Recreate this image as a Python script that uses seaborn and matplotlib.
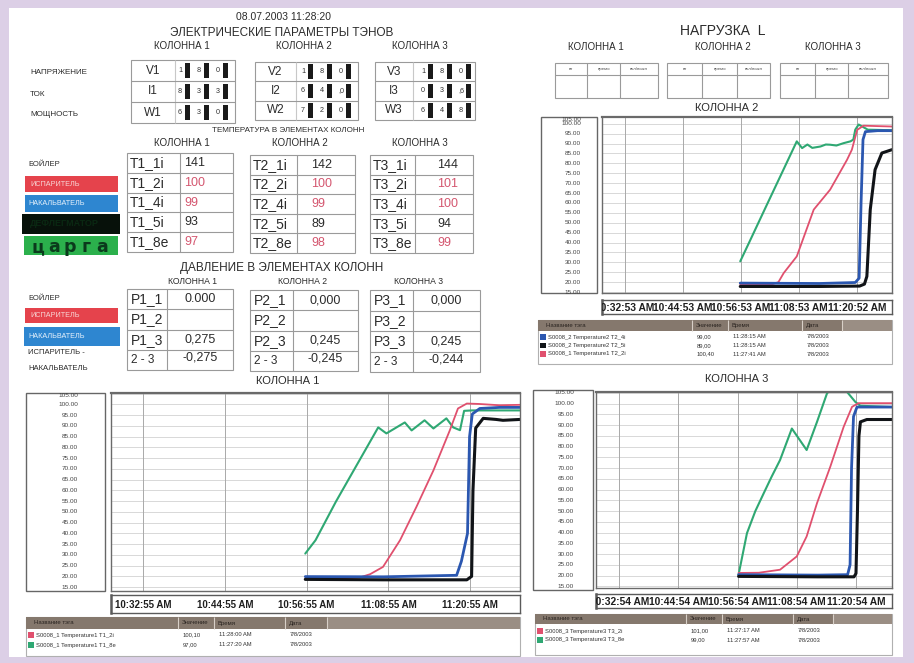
import matplotlib
matplotlib.use("Agg")
import matplotlib.pyplot as plt
from matplotlib.patches import Rectangle
import numpy as np
import pandas as pd
import seaborn as sns

# ---------------- data ----------------
timestamp = "08.07.2003 11:28:20"
col_names = ["КОЛОННА 1", "КОЛОННА 2", "КОЛОННА 3"]

elec_row_labels = ["НАПРЯЖЕНИЕ", "ТОК", "МОЩНОСТЬ"]
elec_names = [["V1", "I1", "W1"], ["V2", "I2", "W2"], ["V3", "I3", "W3"]]
elec_digits = [[["1", "8", "0"], ["8", "3", "3"], ["6", "3", "0"]],
               [["1", "8", "0"], ["6", "4", ",0"], ["7", "2", "0"]],
               [["1", "8", "0"], ["0", "3", ",6"], ["6", "4", "8"]]]

temp_names = [["T1_1i", "T1_2i", "T1_4i", "T1_5i", "T1_8e"],
              ["T2_1i", "T2_2i", "T2_4i", "T2_5i", "T2_8e"],
              ["T3_1i", "T3_2i", "T3_4i", "T3_5i", "T3_8e"]]
temp_values = [["141", "100", "99", "93", "97"],
               ["142", "100", "99", "89", "98"],
               ["144", "101", "100", "94", "99"]]
temp_red_rows = [1, 2, 4]

press_names = [["P1_1", "P1_2", "P1_3", "2 - 3"],
               ["P2_1", "P2_2", "P2_3", "2 - 3"],
               ["P3_1", "P3_2", "P3_3", "2 - 3"]]
press_values = [["0.000", "", "0,275", "-0,275"],
                ["0,000", "", "0,245", "-0,245"],
                ["0,000", "", "0,245", "-0,244"]]

load_headers = ["вт", "время", "вкл/выкл"]

y_ticks = [15, 20, 25, 30, 35, 40, 45, 50, 55, 60, 65, 70, 75, 80, 85, 90, 95, 100, 105]
x_tick_minutes = [4.7, 16.7, 28.7, 40.7, 52.7]      # minutes after 10:28:20
c1_xlabels = ["10:32:55 AM", "10:44:55 AM", "10:56:55 AM", "11:08:55 AM", "11:20:55 AM"]
c2_xlabels = ["10:32:53 AM", "10:44:53 AM", "10:56:53 AM", "11:08:53 AM", "11:20:52 AM"]
c3_xlabels = ["10:32:54 AM", "10:44:54 AM", "10:56:54 AM", "11:08:54 AM", "11:20:54 AM"]

# chart 1 (КОЛОННА 1)
c1_green_t = [28.5, 29.1, 30.0, 33.0, 36.0, 39.2, 40.4, 43.1, 44.1, 46.0, 47.3, 49.2, 50.2, 51.2, 51.8, 53.0, 60.0]
c1_green_v = [30.6, 33.1, 36.8, 54.8, 71.5, 89.3, 86.5, 91.6, 87.9, 92.6, 88.8, 93.5, 89.3, 88.0, 97.0, 97.2, 97.2]
c1_red_t = [28.5, 33.0, 36.5, 38.0, 39.9, 42.4, 44.8, 47.3, 49.7, 50.9, 52.2, 54.0, 57.0, 60.0]
c1_red_v = [19.0, 19.0, 19.5, 21.0, 24.4, 36.8, 52.3, 69.3, 87.9, 98.1, 100.4, 100.2, 99.6, 99.8]
c1_blue_t = [28.5, 40.0, 50.7, 51.4, 52.3, 52.6, 53.0, 54.1, 57.0, 60.0]
c1_blue_v = [19.9, 19.8, 20.5, 27.0, 40.0, 85.0, 95.5, 98.1, 98.6, 98.6]
c1_black_t = [28.5, 40.0, 52.2, 52.9, 53.1, 53.5, 54.6, 56.5, 57.5, 60.0]
c1_black_v = [18.6, 18.4, 18.4, 20.0, 60.0, 89.0, 93.5, 93.0, 92.6, 93.0]

# chart 2 (КОЛОННА 2)
c2_green_t = [28.6, 30.5, 34.0, 37.5, 40.3, 41.4, 42.5, 43.5, 45.2, 46.3, 47.2, 48.5, 50.0, 51.4, 52.0, 52.4, 53.1, 55.0, 60.0]
c2_green_v = [30.5, 40.3, 58.5, 76.6, 91.1, 87.7, 89.5, 87.8, 88.5, 89.5, 89.4, 89.0, 90.2, 91.1, 92.0, 97.0, 99.6, 97.0, 96.7]
c2_red_t = [28.6, 35.0, 36.5, 37.6, 40.3, 43.8, 47.2, 50.7, 51.7, 52.8, 54.1, 57.0, 60.0]
c2_red_v = [18.7, 18.7, 20.0, 24.6, 33.0, 56.6, 66.7, 81.8, 86.9, 96.9, 99.0, 98.8, 98.6]
c2_blue_t = [28.6, 45.0, 52.4, 53.2, 53.6, 54.0, 54.5, 57.0, 60.0]
c2_blue_v = [19.5, 19.3, 19.8, 22.0, 60.0, 92.0, 96.0, 96.5, 96.5]
c2_black_t = [28.6, 45.0, 53.3, 54.3, 54.8, 55.5, 56.5, 57.9, 60.0]
c2_black_v = [17.8, 17.8, 18.0, 19.0, 22.9, 56.6, 76.8, 85.2, 86.9]

# chart 3 (КОЛОННА 3)
c3_green_t = [28.9, 30.6, 32.3, 34.0, 35.6, 37.3, 39.7, 42.7, 44.8, 46.8, 48.5, 50.5, 50.9, 52.6, 53.6, 60.0]
c3_green_v = [20.4, 39.7, 50.0, 58.3, 66.0, 73.7, 88.4, 78.4, 91.5, 104.6, 110.0, 107.0, 105.4, 100.7, 99.0, 98.4]
c3_red_t = [28.9, 33.0, 37.3, 40.7, 42.7, 44.8, 47.5, 50.2, 51.9, 53.2, 56.0, 60.0]
c3_red_v = [21.2, 21.3, 22.7, 28.9, 38.2, 53.7, 70.7, 89.2, 98.5, 100.2, 100.2, 100.2]
c3_blue_t = [28.9, 45.0, 51.0, 51.5, 51.8, 52.2, 52.9, 56.0, 60.0]
c3_blue_v = [20.4, 20.2, 20.4, 25.0, 70.0, 94.0, 98.4, 98.4, 98.4]
c3_black_t = [28.9, 45.0, 52.3, 52.7, 53.0, 53.3, 53.6, 54.9, 60.0]
c3_black_v = [19.6, 19.4, 19.4, 21.0, 50.0, 85.0, 91.5, 92.6, 92.6]

legend_header = ["Название тэга", "Значение", "Время", "Дата"]
c1_legend = [("red", "S0008_1 Temperature1 T1_2i", "100,10", "11:28:00 AM", "7/8/2003"),
             ("green", "S0008_1 Temperature1 T1_8e", "97,00", "11:27:20 AM", "7/8/2003")]
c2_legend = [("blue", "S0008_2 Temperature2 T2_4i", "99,00", "11:28:15 AM", "7/8/2003"),
             ("black", "S0008_2 Temperature2 T2_5i", "89,00", "11:28:15 AM", "7/8/2003"),
             ("red", "S0008_1 Temperature1 T2_2i", "100,40", "11:27:41 AM", "7/8/2003")]
c3_legend = [("red", "S0008_3 Temperature3 T3_2i", "101,00", "11:27:17 AM", "7/8/2003"),
             ("green", "S0008_3 Temperature3 T3_8e", "99,00", "11:27:57 AM", "7/8/2003")]

# ---------------- style ----------------
sns.set_theme(style="white")
plt.rcParams["font.family"] = ["Liberation Sans", "DejaVu Sans"]

COL = {"green": "#2fa873", "red": "#e0506e", "blue": "#2b57b0", "black": "#111418"}
LW = {"green": 1.5, "red": 1.3, "blue": 2.0, "black": 2.2}
TXT = "#2b2b2b"
W, H = 914, 663

fig = plt.figure(figsize=(9.14, 6.63), dpi=100, facecolor="#dccfe6")
ov = fig.add_axes([0, 0, 1, 1])
ov.set_xlim(0, W)
ov.set_ylim(H, 0)
ov.axis("off")
ov.add_patch(Rectangle((9, 8), 894, 649, fc="white", ec="none"))


def px_axes(x0, y0, x1, y1):
    return fig.add_axes([x0 / W, 1 - y1 / H, (x1 - x0) / W, (y1 - y0) / H])


def T(x, y, s, size=7, ha="center", va="center", color=TXT, weight="normal", **kw):
    ov.text(x, y, s, fontsize=size, ha=ha, va=va, color=color, weight=weight, **kw)


def box(x0, y0, x1, y1, fc="none", ec="#9a9a9a", lw=0.8):
    ov.add_patch(Rectangle((x0, y0), x1 - x0, y1 - y0, fc=fc, ec=ec, lw=lw))


def hline(x0, x1, y, color="#9a9a9a", lw=0.8):
    ov.plot([x0, x1], [y, y], color=color, lw=lw, solid_capstyle="butt")


def vline(x, y0, y1, color="#9a9a9a", lw=0.8):
    ov.plot([x, x], [y0, y1], color=color, lw=lw, solid_capstyle="butt")


# ---------------- top-left: electrical parameters ----------------
T(284, 17, timestamp, 7.5)
T(282, 33, "ЭЛЕКТРИЧЕСКИЕ ПАРАМЕТРЫ ТЭНОВ", 8.5)
for x, n in zip([182, 304, 420], col_names):
    T(x, 46, n, 7)
for y, lab in zip([72, 94, 115], elec_row_labels):
    T(30, y, lab, 5.8, ha="left")

elec_boxes = [(131, 60, 235, 123, 175, 180), (255, 62, 358, 120, 296, 303),
              (375, 62, 475, 120, 413, 423)]
for (x0, y0, x1, y1, sx, dx), names, digs in zip(elec_boxes, elec_names, elec_digits):
    box(x0, y0, x1, y1)
    vline(sx, y0, y1, color="#c8c8c8")
    rh = (y1 - y0) / 3
    for r in range(3):
        if r > 0:
            hline(x0, x1, y0 + r * rh)
        cy = y0 + (r + 0.5) * rh
        T((x0 + sx) / 2, cy, names[r], 8.5)
        for k, d in enumerate(digs[r]):
            xx = dx + k * 19
            T(xx, cy, d, 5.2, color="#333")
            ov.add_patch(Rectangle((xx + 4.5, cy - rh * 0.38), 5.5, rh * 0.76, fc="#1a1a1a", ec="none"))

# ---------------- temperature ----------------
T(288, 130, "ТЕМПЕРАТУРА В ЭЛЕМЕНТАХ КОЛОНН", 5.8)
for x, n in zip([182, 300, 420], col_names):
    T(x, 143, n, 7)

T(28, 164, "БОЙЛЕР", 5.5, ha="left")
ov.add_patch(Rectangle((25, 176), 93, 16, fc="#e5434c", ec="none"))
T(30, 184, "ИСПАРИТЕЛЬ", 5.2, ha="left", color="#f7d6d6")
ov.add_patch(Rectangle((25, 195), 93, 17, fc="#2e86d0", ec="none"))
T(28, 203.5, "НАКАЛЬВАТЕЛЬ", 5.2, ha="left", color="#e6f1fb")
ov.add_patch(Rectangle((22, 214), 98, 20, fc="#07110a", ec="none"))
T(30, 224, "ДЕФЛЕГМАТОР", 6.5, ha="left", color="#0a2812", weight="bold")
ov.add_patch(Rectangle((24, 236), 94, 19, fc="#2bb04c", ec="none"))
for k, ch in enumerate("царга"):
    T(38 + k * 16, 247, ch, 12.5, color="#0b3a1c", weight="bold", family="DejaVu Sans")

temp_boxes = [(127, 153, 233, 252, 180, 184), (250, 155, 355, 253, 297, 311),
              (370, 155, 473, 253, 415, 437)]
for (x0, y0, x1, y1, sx, vx), names, vals in zip(temp_boxes, temp_names, temp_values):
    box(x0, y0, x1, y1)
    vline(sx, y0, y1)
    rh = (y1 - y0) / 5
    for r in range(5):
        if r > 0:
            hline(x0, x1, y0 + r * rh)
        cy = y0 + (r + 0.5) * rh
        T(x0 + 3, cy, names[r], 10, ha="left")
        T(vx, cy, vals[r], 9, ha="left", color="#d4566f" if r in temp_red_rows else TXT)

# ---------------- pressure ----------------
T(282, 268, "ДАВЛЕНИЕ В ЭЛЕМЕНТАХ КОЛОНН", 8.5)
for x, n in zip([193, 303, 418], col_names):
    T(x, 282, n, 6.2)

T(28, 299, "БОЙЛЕР", 5.5, ha="left")
ov.add_patch(Rectangle((25, 308), 93, 15, fc="#e5434c", ec="none"))
T(30, 315.5, "ИСПАРИТЕЛЬ", 5.2, ha="left", color="#f7d6d6")
ov.add_patch(Rectangle((24, 327), 96, 19, fc="#2e86d0", ec="none"))
T(28, 336.5, "НАКАЛЬВАТЕЛЬ", 5.2, ha="left", color="#e6f1fb")
T(28, 353, "ИСПАРИТЕЛЬ -", 5.5, ha="left")
T(28, 369, "НАКАЛЬВАТЕЛЬ", 5.5, ha="left")

press_boxes = [(127, 289, 233, 370, 167), (250, 290, 358, 371, 293), (370, 290, 480, 372, 413)]
for (x0, y0, x1, y1, sx), names, vals in zip(press_boxes, press_names, press_values):
    box(x0, y0, x1, y1)
    vline(sx, y0, y1)
    rh = (y1 - y0) / 4
    for r in range(4):
        if r > 0:
            hline(x0, x1, y0 + r * rh)
        cy = y0 + (r + 0.5) * rh
        T(x0 + 4, cy, names[r], 10 if r < 3 else 8.5, ha="left")
        T((sx + x1) / 2, cy - (2 if r == 3 else 0), vals[r], 9)

# ---------------- top-right: load ----------------
T(723, 31, "НАГРУЗКА  L", 10)
for x, n in zip([596, 723, 833], col_names):
    T(x, 47, n, 7)
load_boxes = [(555, 63, 658, 98, 587, 620), (667, 63, 770, 98, 702, 737), (780, 63, 888, 98, 815, 848)]
for x0, y0, x1, y1, s1, s2 in load_boxes:
    box(x0, y0, x1, y1)
    hline(x0, x1, 75)
    vline(s1, y0, y1)
    vline(s2, y0, y1)
    for xa, xb, h in zip([x0, s1, s2], [s1, s2, x1], load_headers):
        T((xa + xb) / 2, 69, h, 3.2, color="#555")


# ---------------- charts ----------------
def draw_chart(title_xy, lab_box, plot_box, tick_box, ylim, series, xlabels, xfs,
               lab_right, leg_box, hdr_h, seps, rows, row_y):
    T(title_xy[0], title_xy[1], title_xy[2], 8)
    # y-label box
    lx0, ly0, lx1, ly1 = lab_box
    box(lx0, ly0, lx1, ly1, ec="#666666", lw=1.0)
    px0, py0, px1, py1 = plot_box
    for v in y_ticks:
        py = py1 - (v - ylim[0]) / (ylim[1] - ylim[0]) * (py1 - py0)
        py = max(py, ly0 + 2.5)
        T(lab_right, py, f"{v:.2f}", 4.6, ha="right", color="#444")
    # plot
    ax = px_axes(*plot_box)
    frames = []
    for name, (t, v) in series.items():
        frames.append(pd.DataFrame({"t": t, "v": v, "s": name}))
    df = pd.concat(frames, ignore_index=True)
    for v in y_ticks:
        ax.axhline(v, color="#d2d2d2", lw=0.6, zorder=0)
    for t in x_tick_minutes:
        ax.axvline(t, color="#a9a9a9", lw=0.7, zorder=0)
    for name in ["green", "red", "blue", "black"]:
        sub = df[df["s"] == name]
        sns.lineplot(data=sub, x="t", y="v", ax=ax, color=COL[name], lw=LW[name],
                     estimator=None, sort=False, legend=False)
    ax.set_xlim(0, 60)
    ax.set_ylim(*ylim)
    ax.set_xticks([])
    ax.set_yticks([])
    ax.set_xlabel("")
    ax.set_ylabel("")
    ax.set_facecolor("white")
    for sp in ax.spines.values():
        sp.set_color("#6a6a6a")
        sp.set_linewidth(1.0)
    ax.spines["top"].set_linewidth(1.6)
    # x tick label box
    tx = px_axes(*tick_box)
    tx.set_xlim(0, 60)
    tx.set_ylim(0, 1)
    tx.set_xticks([])
    tx.set_yticks([])
    tx.set_facecolor("white")
    for sp in tx.spines.values():
        sp.set_color("#5a5a5a")
        sp.set_linewidth(1.0)
    tx.spines["left"].set_linewidth(1.8)
    for t, lab in zip(x_tick_minutes, xlabels):
        tx.text(t, 0.45, lab, fontsize=xfs, weight="bold", ha="center", va="center",
                color="#1e1e1e", clip_on=True)
    # legend table
    gx0, gy0, gx1, gy1 = leg_box
    box(gx0, gy0, gx1, gy1, ec="#b0b0b0", lw=0.8)
    ov.add_patch(Rectangle((gx0, gy0), gx1 - gx0, hdr_h, fc="#9a8e84", ec="none"))
    ov.add_patch(Rectangle((gx0, gy0), seps[-1] - gx0, hdr_h, fc="#85786d", ec="none"))
    for s in seps:
        vline(s, gy0, gy0 + hdr_h, color="#d8d0c8", lw=0.8)
    hx = [gx0 + 8] + [s + 4 for s in seps[:3]]
    for x, h in zip(hx, legend_header):
        T(x, gy0 + hdr_h / 2, h, 4.3, ha="left", color="#2a2420")
    for (c, tag, val, tm, dt), ry in zip(rows, row_y):
        ov.add_patch(Rectangle((gx0 + 2, ry - 2.7), 5.5, 5.5, fc=COL[c], ec="none"))
        T(gx0 + 10, ry, tag, 4.2, ha="left", color="#333")
        T(seps[0] + 5, ry, val, 4.2, ha="left", color="#333")
        T(seps[1] + 5, ry, tm, 4.2, ha="left", color="#333")
        T(seps[2] + 5, ry, dt, 4.2, ha="left", color="#333")


draw_chart((288, 381, "КОЛОННА 1"), (26, 393, 105, 591), (111, 393, 520, 591),
           (111, 595, 520, 613), (13.2, 105.3),
           {"green": (c1_green_t, c1_green_v), "red": (c1_red_t, c1_red_v),
            "blue": (c1_blue_t, c1_blue_v), "black": (c1_black_t, c1_black_v)},
           c1_xlabels, 7.0, 78, (26, 617, 520, 656), 12, [178, 214, 285, 327], c1_legend, [635, 645])

draw_chart((727, 108, "КОЛОННА 2"), (541, 117, 597, 293), (602, 117, 892, 293),
           (602, 300, 892, 314), (14.5, 103.4),
           {"green": (c2_green_t, c2_green_v), "red": (c2_red_t, c2_red_v),
            "blue": (c2_blue_t, c2_blue_v), "black": (c2_black_t, c2_black_v)},
           c2_xlabels, 7.4, 581, (538, 320, 892, 364), 11, [692, 728, 802, 842], c2_legend, [337, 345.5, 354])

draw_chart((737, 379, "КОЛОННА 3"), (533, 390, 593, 590), (596, 392, 892, 588),
           (596, 594, 892, 608), (14.2, 105.4),
           {"green": (c3_green_t, c3_green_v), "red": (c3_red_t, c3_red_v),
            "blue": (c3_blue_t, c3_blue_v), "black": (c3_black_t, c3_black_v)},
           c3_xlabels, 7.4, 574, (535, 614, 892, 655), 10, [686, 722, 793, 833], c3_legend, [631, 640])

fig.savefig("out.png", dpi=100, facecolor=fig.get_facecolor())
